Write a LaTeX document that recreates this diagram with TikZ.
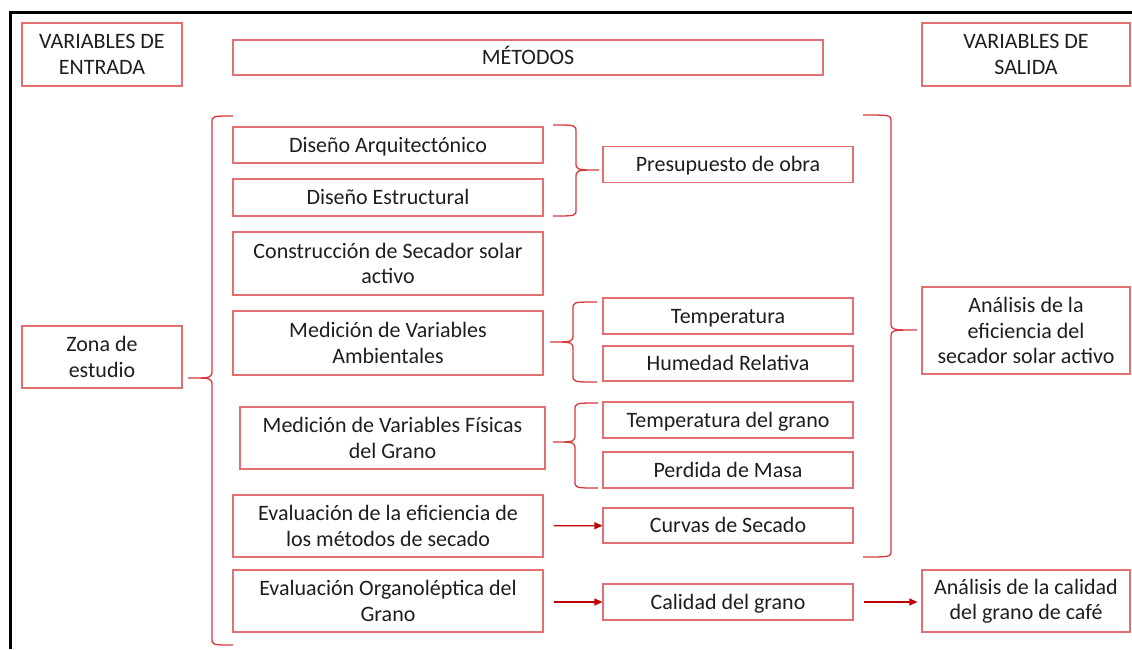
\documentclass[tikz,border=0pt]{standalone}
\usepackage{fontspec}
\setmainfont{Carlito}
\usetikzlibrary{arrows.meta}

\definecolor{boxred}{RGB}{226,112,112}
\definecolor{bracered}{RGB}{214,58,62}
\definecolor{arrred}{RGB}{192,0,0}
\definecolor{txtgray}{RGB}{30,30,30}

% x end, x spine, x tip, y top, y tip, y bottom
\newcommand{\curlybr}[6]{%
  \draw[brc] (#1,#4) .. controls (#2,#4) .. (#2,#4+7) -- (#2,#5-8)
    .. controls (#2,#5) .. (#3,#5) .. controls (#2,#5) .. (#2,#5+8)
    -- (#2,#6-7) .. controls (#2,#6) .. (#1,#6);}

\begin{document}
\begin{tikzpicture}[x=1pt, y=-1pt,
	every node/.style={font=\fontsize{22}{25.5}\selectfont, text=txtgray},
	box/.style={draw=boxred, line width=1.2pt, inner sep=0pt, align=center},
	one/.style={text height=16pt, text depth=2pt},
	side/.style={box, minimum width=160, minimum height=63},
	lbox/.style={box, minimum width=310},
	mbox/.style={box, one, minimum width=250, minimum height=36},
	obox/.style={box, minimum width=208},
	brc/.style={draw=bracered, line width=1.3pt},
	arr/.style={draw=arrred, line width=1.2pt, -{Triangle[length=8pt, width=7pt]}},]

\useasboundingbox (0,0) rectangle (1132,649);

% Frame
\draw[line width=3pt] (1132,12) -- (10,12) -- (10,649);

% Create the nodes
\node[side] (ent) at (102,54.5) {VARIABLES DE\\ENTRADA};
\node[box, one, minimum width=590, minimum height=35] (met) at (528,57.5) {MÉTODOS};
\node[obox, minimum height=63] (sal) at (1026,54.5) {VARIABLES DE\\SALIDA};

\node[side, minimum height=62] (zona) at (102,357) {Zona de\\estudio};

\node[lbox, one, minimum height=36] (dArq) at (388,145) {Diseño Arquitectónico};
\node[lbox, one, minimum height=37] (dEst) at (388,197.5) {Diseño Estructural};
\node[lbox, minimum height=63] (cons) at (388,263.5) {Construcción de Secador solar\\activo};
\node[lbox, minimum height=64] (mAmb) at (388,343) {Medición de Variables\\Ambientales};
\node[lbox, minimum width=305, minimum height=62] (mFis) at (392.5,438) {Medición de Variables Físicas\\del Grano};
\node[lbox, minimum height=62] (eEfi) at (388,526) {Evaluación de la eficiencia de\\los métodos de secado};
\node[lbox, minimum height=62] (eOrg) at (388,601) {Evaluación Organoléptica del\\Grano};

\node[mbox] (pres) at (728,164.5) {Presupuesto de obra};
\node[mbox] (temp) at (728,316) {Temperatura};
\node[mbox, minimum height=35] (hum) at (728,363.5) {Humedad Relativa};
\node[mbox] (tGra) at (728,420) {Temperatura del grano};
\node[mbox] (pMas) at (728,470) {Perdida de Masa};
\node[mbox, minimum height=35] (curv) at (728,525.5) {Curvas de Secado};
\node[mbox] (cal) at (728,602) {Calidad del grano};

\node[obox, minimum height=87] (aEfi) at (1026,330.5) {Análisis de la\\eficiencia del\\secador solar activo};
\node[obox, minimum height=62] (aCal) at (1026,601) {Análisis de la calidad\\del grano de café};

% Braces
\curlybr{233}{212}{188}{116}{378}{645}
\curlybr{553}{576}{599}{125}{170}{216}
\curlybr{597}{573}{550}{302}{342}{382}
\curlybr{598}{575}{553}{403}{442}{488}
\curlybr{863}{891}{917}{115}{330}{557}

% Arrows
\draw[arr, shorten <=10pt] (eEfi) -- (curv);
\draw[arr, shorten <=10pt] (eOrg.east |- cal) -- (cal);
\draw[arr, shorten <=10pt, shorten >=4pt] (cal) -- (aCal.west |- cal);

\end{tikzpicture}
\end{document}
